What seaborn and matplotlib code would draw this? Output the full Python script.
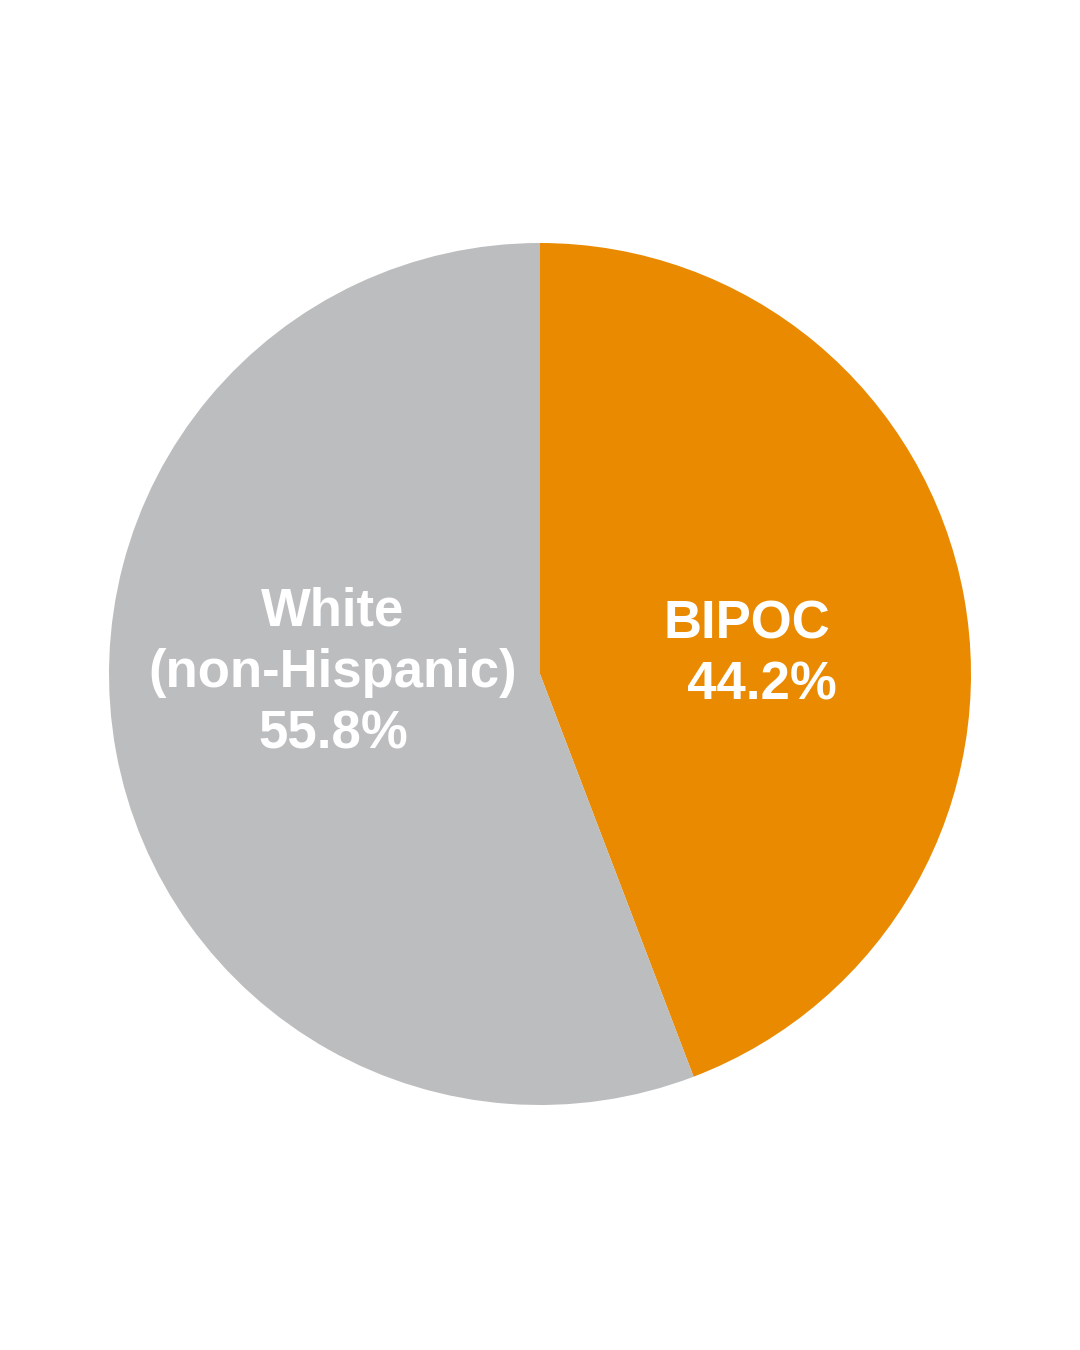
import matplotlib.pyplot as plt
import seaborn as sns

sns.set_style("white")
plt.rcParams['font.family'] = ['Liberation Sans', 'DejaVu Sans']

groups = ['BIPOC', 'White\n(non-Hispanic)']
shares = [44.2, 55.8]
colors = ['#EA8A00', '#BCBDBF']

fig = plt.figure(figsize=(10.8, 13.5), dpi=100)
ax = fig.add_axes([0, 0, 1, 1])
ax.set_xlim(0, 1080)
ax.set_ylim(0, 1350)
ax.set_aspect('equal')
ax.axis('off')

ax.pie(shares, colors=colors, startangle=90, counterclock=False,
       radius=431, center=(540, 676), frame=True,
       wedgeprops={'linewidth': 0})
ax.set_xlim(0, 1080)
ax.set_ylim(0, 1350)
ax.axis('off')

ax.text(747, 1350 - 655, f"{groups[0]}\n  {shares[0]}%", ha='center', va='center',
        color='white', fontsize=38, fontweight='bold', linespacing=1.3)
ax.text(333, 1350 - 673, f"{groups[1]}\n{shares[1]}%", ha='center', va='center',
        color='white', fontsize=38, fontweight='bold', linespacing=1.3)

fig.savefig('out.png', dpi=100, facecolor='white')
